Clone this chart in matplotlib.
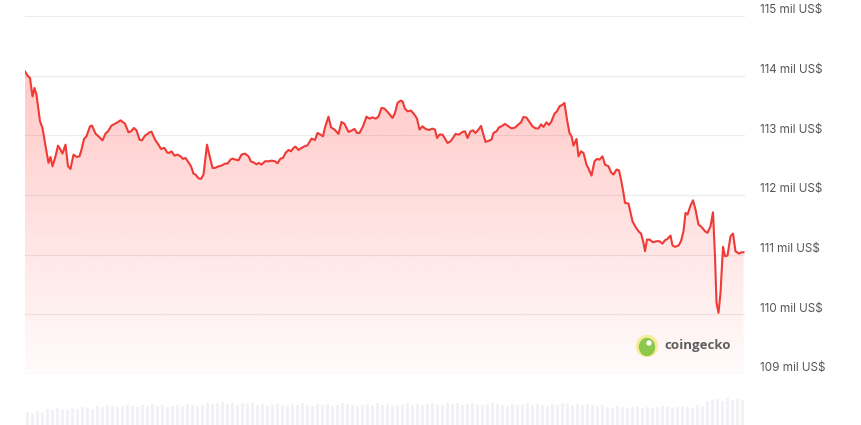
import numpy as np
import matplotlib
matplotlib.use("Agg")
import matplotlib.pyplot as plt
from matplotlib.patches import Ellipse

# ---- data ----
minutes = [0, 5, 10, 15, 19, 23, 30, 35, 40, 47, 51, 55, 61, 66, 70, 75, 81, 86, 91, 97,
           103, 109, 113, 118, 123, 130, 134, 141, 147, 155, 161, 166, 173, 183, 191, 200, 207, 212, 218, 223,
           229, 234, 240, 245, 249, 253, 260, 267, 272, 279, 284, 288, 293, 299, 305, 311, 316, 321, 327, 332,
           337, 341, 347, 352, 357, 364, 369, 375, 380, 387, 393, 400, 405, 411, 415, 421, 427, 433, 440, 447,
           452, 457, 463, 468, 473, 480, 487, 493, 500, 505, 511, 516, 521, 527, 532, 537, 541, 547, 553, 559,
           565, 573, 580, 585, 591, 596, 600, 607, 612, 619, 627, 633, 639, 647, 653, 659, 664, 669, 676, 683,
           689, 695, 701, 707, 713, 719, 727, 735, 740, 745, 751, 755, 760, 765, 772, 779, 784, 789, 795, 801,
           808, 815, 820, 824, 829, 835, 840, 845, 851, 856, 861, 868, 875, 880, 885, 891, 896, 901, 907, 912,
           917, 921, 928, 933, 937, 943, 948, 953, 960, 967, 973, 980, 987, 992, 997, 1003, 1008, 1015, 1021, 1027,
           1032, 1037, 1043, 1048, 1053, 1059, 1064, 1069, 1075, 1079, 1084, 1089, 1093, 1097, 1103, 1107, 1112, 1117, 1123, 1128,
           1133, 1139, 1144, 1149, 1155, 1160, 1167, 1172, 1177, 1183, 1188, 1192, 1197, 1200, 1207, 1215, 1221, 1227, 1232, 1237,
           1240, 1244, 1249, 1256, 1263, 1269, 1275, 1280, 1285, 1291, 1295, 1300, 1307, 1312, 1317, 1321, 1325, 1331, 1336, 1341,
           1347, 1353, 1360, 1365, 1371, 1376, 1380, 1383, 1387, 1391, 1396, 1400, 1405, 1411, 1416, 1421, 1428, 1433, 1437]

prices = [114072, 114000, 113961, 113653, 113794, 113682, 113235, 113124, 112873, 112538, 112638, 112481, 112648, 112828, 112772, 112694, 112844, 112481, 112437, 112677,
          112638, 112648, 112760, 112940, 112983, 113151, 113163, 113029, 112983, 112916, 113029, 113067, 113163, 113208, 113251, 113196, 113050, 113067, 113124, 113084,
          112928, 112916, 112995, 113023, 113050, 113062, 112928, 112844, 112772, 112789, 112715, 112705, 112732, 112660, 112677, 112648, 112605, 112621, 112548, 112481,
          112358, 112342, 112280, 112270, 112342, 112844, 112660, 112454, 112454, 112481, 112493, 112526, 112526, 112593, 112610, 112593, 112581, 112677, 112694, 112648,
          112560, 112548, 112514, 112538, 112509, 112565, 112565, 112576, 112565, 112531, 112610, 112621, 112705, 112755, 112732, 112789, 112811, 112755, 112789, 112816,
          112833, 112945, 112923, 113040, 113012, 112983, 113134, 113313, 113134, 113096, 113023, 113224, 113191, 113057, 113079, 113107, 113040, 113040, 113151, 113313,
          113280, 113302, 113280, 113313, 113459, 113447, 113375, 113291, 113375, 113543, 113581, 113570, 113447, 113402, 113414, 113347, 113280, 113096, 113151, 113107,
          113090, 113112, 113096, 112956, 113012, 113012, 112945, 112873, 112900, 112956, 113023, 113012, 113057, 113067, 112956, 113067, 113084, 113040, 113096, 113158,
          113012, 112889, 112911, 112928, 113040, 113067, 113134, 113151, 113191, 113151, 113117, 113129, 113184, 113218, 113308, 113297, 113235, 113151, 113117, 113117,
          113184, 113141, 113218, 113174, 113235, 113364, 113402, 113486, 113514, 113543, 113263, 113040, 112983, 112828, 112940, 112648, 112732, 112705, 112509, 112426,
          112325, 112565, 112605, 112593, 112648, 112509, 112481, 112380, 112342, 112426, 112414, 112258, 112035, 111868, 111856, 111560, 111466, 111392, 111354, 111198,
          111057, 111253, 111253, 111208, 111225, 111225, 111186, 111241, 111265, 111320, 111153, 111131, 111153, 111225, 111392, 111700, 111672, 111822, 111911, 111755,
          111504, 111466, 111392, 111365, 111476, 111710, 110973, 110193, 110025, 110360, 111131, 110973, 110985, 111308, 111354, 111057, 111018, 111040, 111040]

y_ticks = [109000, 110000, 111000, 112000, 113000, 114000, 115000]
y_labels = ["109 mil US$", "110 mil US$", "111 mil US$", "112 mil US$",
            "113 mil US$", "114 mil US$", "115 mil US$"]

volumes = [13, 12, 14, 13, 16, 15, 17, 16, 15, 17, 16, 18, 17, 16,
           19, 18, 20, 19, 18, 19, 20, 19, 18, 20, 19, 21, 19, 20, 18, 19, 20, 19, 21, 20, 19, 20,
           22, 21, 22, 23, 21, 22, 20, 22, 21, 22,
           20, 21, 19, 20, 21, 20, 19, 21, 20, 22, 20, 19, 21, 20, 21, 19, 20, 22, 21, 20, 19, 20, 21, 20,
           22, 20, 21, 19, 20, 21, 22, 20, 21, 20, 21,
           22, 21, 20, 22, 21, 22, 20, 21, 22, 21, 20, 21, 22, 21, 20, 19, 21, 20, 21, 22, 20, 21, 20, 19,
           21, 20, 22, 21, 20, 21, 20, 21, 20, 19, 20,
           18, 17, 19, 18, 17, 18, 19, 17, 18, 17, 18, 19, 18, 17, 18, 19, 18, 17, 20, 19,
           24, 25, 26, 24, 27, 25, 26, 25]

# ---- figure ----
W, H = 861, 425
fig = plt.figure(figsize=(W / 100, H / 100), dpi=100)
fig.patch.set_facecolor("white")

ax_left = 25 / W
ax_w = (745 - 25) / W
ax_bot = (H - 374) / H
ax_h = (374 - 16) / H
ax = fig.add_axes([ax_left, ax_bot, ax_w, ax_h])

x = np.array(minutes, dtype=float)
y = np.array(prices, dtype=float)
ymin, ymax = 109000, 115000
ax.set_xlim(0, 1440)
ax.set_ylim(ymin, ymax)

for t in y_ticks:
    ax.axhline(t, color="#ececec", lw=0.9, zorder=0)

line_color = "#ef3a36"
# gradient fill
poly = ax.fill_between(x, y, ymin, color="none", lw=0)
grad = np.zeros((256, 2, 4))
rgb = np.array([255, 60, 55]) / 255.0
alphas = np.linspace(0.28, 0.02, 256)
grad[:, :, 0:3] = rgb
grad[:, :, 3] = alphas[:, None]
top = y.max()
im = ax.imshow(grad, extent=[x.min(), x.max(), ymin, top], aspect="auto",
               origin="upper", zorder=1)
im.set_clip_path(poly.get_paths()[0], transform=ax.transData)
ax.plot(x, y, color=line_color, lw=1.5, zorder=3, solid_joinstyle="round")

for s in ax.spines.values():
    s.set_visible(False)
ax.set_xticks([])
ax.set_yticks([])

# right-side labels
for t, lab in zip(y_ticks, y_labels):
    ax.annotate(lab, xy=(1, t), xycoords=("axes fraction", "data"),
                xytext=(11, 4), textcoords="offset points", ha="left", va="center",
                fontsize=8.4, color="#555555", family=["Inter", "DejaVu Sans"])

# coingecko watermark
wax = fig.add_axes([0, 0, 1, 1], facecolor="none")
wax.set_xlim(0, W)
wax.set_ylim(H, 0)
wax.axis("off")
wax.add_patch(Ellipse((647, 346), 21, 21, color="#f7ec9a", zorder=5))
wax.add_patch(Ellipse((647, 347), 15, 17, color="#8cc84b", zorder=6))
wax.add_patch(Ellipse((649, 343), 4, 4, color="white", zorder=7))
wax.text(664, 346, "coingecko", ha="left", va="center", fontsize=9.5,
         fontweight="bold", color="#5e5e5e", family=["Open Sans", "DejaVu Sans"], zorder=7)

# volume bars
vax = fig.add_axes([ax_left, 0, ax_w, 30 / H], facecolor="none")
n = len(volumes)
vx = np.arange(n)
vax.bar(vx, volumes, width=0.6, color="#f0f2f5", lw=0)
vax.set_xlim(-0.5, n - 0.5)
vax.set_ylim(0, 30)
vax.axis("off")

fig.savefig("out.png", dpi=100, facecolor="white")
